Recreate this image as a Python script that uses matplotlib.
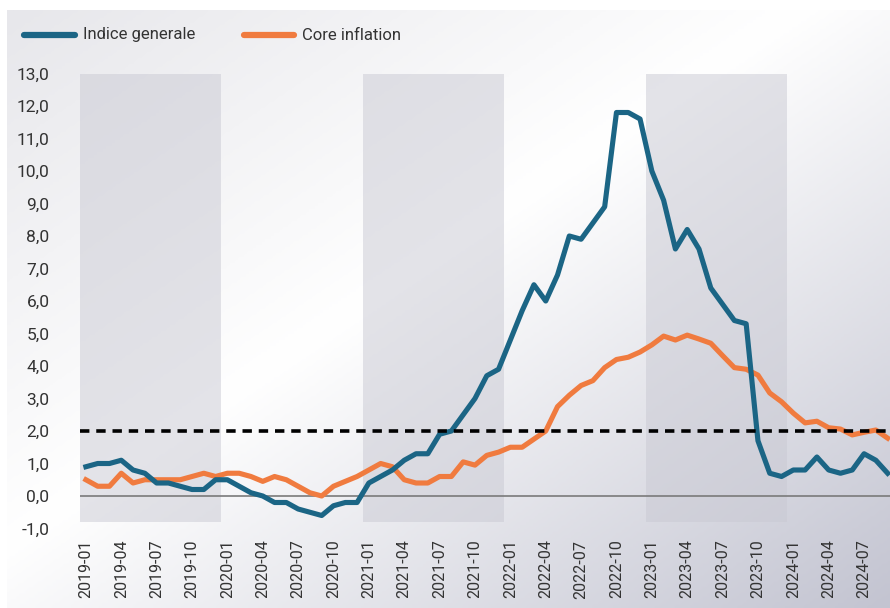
import numpy as np
import matplotlib.pyplot as plt
from matplotlib.lines import Line2D
from matplotlib.colors import LinearSegmentedColormap

# dati mensili 2019-01 .. 2024-09
months = [f"{y}-{m:02d}" for y in range(2019, 2025) for m in range(1, 13)][:69]

indice_generale = [0.9, 1.0, 1.0, 1.1, 0.8, 0.7, 0.4, 0.4, 0.3, 0.2, 0.2, 0.5,
                   0.5, 0.3, 0.1, 0.0, -0.2, -0.2, -0.4, -0.5, -0.6, -0.3, -0.2, -0.2,
                   0.4, 0.6, 0.8, 1.1, 1.3, 1.3, 1.9, 2.0, 2.5, 3.0, 3.7, 3.9,
                   4.8, 5.7, 6.5, 6.0, 6.8, 8.0, 7.9, 8.4, 8.9, 11.8, 11.8, 11.6,
                   10.0, 9.1, 7.6, 8.2, 7.6, 6.4, 5.9, 5.4, 5.3, 1.7, 0.7, 0.6,
                   0.8, 0.8, 1.2, 0.8, 0.7, 0.8, 1.3, 1.1, 0.7]

core_inflation = [0.5, 0.3, 0.3, 0.7, 0.4, 0.5, 0.5, 0.5, 0.5, 0.6, 0.7, 0.6,
                  0.7, 0.7, 0.6, 0.45, 0.6, 0.5, 0.3, 0.1, 0.0, 0.3, 0.45, 0.6,
                  0.8, 1.0, 0.9, 0.5, 0.4, 0.4, 0.6, 0.6, 1.05, 0.95, 1.25, 1.35,
                  1.5, 1.5, 1.75, 2.0, 2.75, 3.1, 3.4, 3.55, 3.95, 4.2, 4.27, 4.43,
                  4.65, 4.92, 4.8, 4.95, 4.83, 4.7, 4.32, 3.95, 3.9, 3.72, 3.17, 2.9,
                  2.55, 2.25, 2.3, 2.1, 2.06, 1.88, 1.96, 2.03, 1.78]

target = 2.0
shaded_years = ['2019', '2021', '2023']

blue = '#1b6585'
orange = '#f07b3f'

plt.rcParams['font.family'] = ['Roboto', 'DejaVu Sans']

fig = plt.figure(figsize=(8.9, 6.08), dpi=100)
fig.patch.set_facecolor('white')

# sfondo sfumato
bg = fig.add_axes([7 / 890, 0, 1 - 7 / 890, 1 - 10 / 608], zorder=-5)
gx, gy = np.meshgrid(np.linspace(0, 1, 300), np.linspace(0, 1, 200))
t = (gx + gy) / 2
cmap = LinearSegmentedColormap.from_list('bg', [(0, '#e7e7eb'), (0.45, '#ffffff'), (1, '#c3c4d1')])
bg.imshow(t, cmap=cmap, aspect='auto', vmin=0, vmax=1, interpolation='bilinear')
bg.axis('off')

ax = fig.add_axes([80 / 890, 1 - 528.5 / 608, 1 - 80 / 890, (528.5 - 73.5) / 608])
ax.set_facecolor('none')

x = np.arange(len(months))

# bande grigie per anno
for yr in shaded_years:
    idx = [i for i, m in enumerate(months) if m.startswith(yr)]
    ax.fill_between([idx[0] - 0.5, idx[-1] + 0.5], -0.8, 13.0,
                    color='#c9c9d3', alpha=0.5, lw=0, zorder=0)

ax.axhline(0, color='#7a7a7a', lw=1.2, zorder=1)
ax.axhline(target, color='black', lw=2.6, dashes=(2.6, 1.9), zorder=4)

ax.plot(x, core_inflation, color=orange, lw=3.7, solid_joinstyle='round', zorder=3)
ax.plot(x, indice_generale, color=blue, lw=3.7, solid_joinstyle='round', zorder=3)

ax.set_xlim(-0.5, 68.2)
ax.set_ylim(-1, 13)
ax.set_yticks(np.arange(-1, 14, 1))
ax.set_yticklabels([f"{v:.1f}".replace('.', ',') for v in np.arange(-1, 14, 1)])
ax.set_xticks(x[::3])
ax.set_xticklabels(months[::3], rotation=90)

for s in ax.spines.values():
    s.set_visible(False)
ax.tick_params(axis='y', length=0, pad=22, labelsize=12.5, labelcolor='#333333')
ax.tick_params(axis='x', length=0, pad=8, labelsize=11.5, labelcolor='#333333')

# legenda
def fx(px):
    return px / 890

def fy(py):
    return 1 - py / 608

fig.add_artist(Line2D([fx(24), fx(75)], [fy(35), fy(35)], color=blue, lw=4.5,
                      solid_capstyle='round'))
fig.text(fx(83), fy(35), 'Indice generale', fontsize=12, color='#333333', va='center')
fig.add_artist(Line2D([fx(244), fx(294)], [fy(35), fy(35)], color=orange, lw=4.5,
                      solid_capstyle='round'))
fig.text(fx(302), fy(35), 'Core inflation', fontsize=12, color='#333333', va='center')

plt.savefig('out.png', dpi=100)
plt.close()
